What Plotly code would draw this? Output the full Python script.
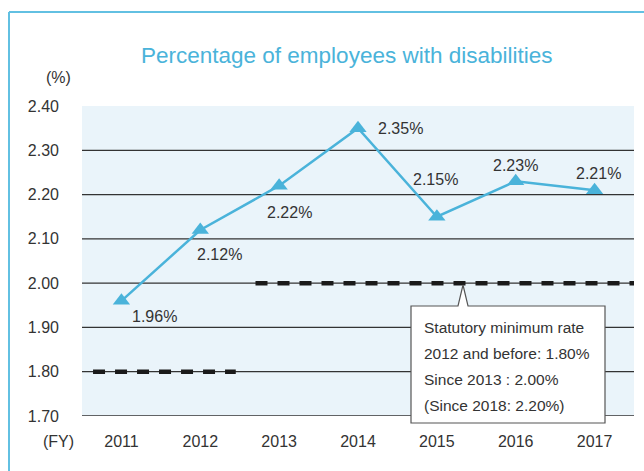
import plotly.graph_objects as go

years = [2011, 2012, 2013, 2014, 2015, 2016, 2017]
rates = [1.96, 2.12, 2.22, 2.35, 2.15, 2.23, 2.21]
labels = ["1.96%", "2.12%", "2.22%", "2.35%", "2.15%", "2.23%", "2.21%"]
y_ticks = [1.70, 1.80, 1.90, 2.00, 2.10, 2.20, 2.30, 2.40]
y_tick_text = ["1.70", "1.80", "1.90", "2.00", "2.10", "2.20", "2.30", "2.40"]
statutory_rates = [1.80, 2.00]
statutory_spans = [(2010.64, 2012.45), (2012.70, 2017.5)]
note_lines = ["Statutory minimum rate", "2012 and before: 1.80%",
              "Since 2013 : 2.00%", "(Since 2018: 2.20%)"]

FONT = "Liberation Sans, Arial, sans-serif"
BLUE = "#4ab3da"
TXT = "#333333"

# label offsets (pixels) relative to each point
label_shift = [(33, -16), (19, -24), (10, -27), (42, 0), (-1, 37), (0, 16), (4, 17)]

fig = go.Figure()
fig.add_trace(go.Scatter(
    x=years, y=rates, mode="lines+markers",
    line=dict(color=BLUE, width=2.5),
    marker=dict(symbol="triangle-up", size=15, color=BLUE),
    hoverinfo="skip", showlegend=False, cliponaxis=False,
))

shapes = []
for r, (x0, x1) in zip(statutory_rates, statutory_spans):
    shapes.append(dict(type="line", xref="x", yref="y", x0=x0, x1=x1, y0=r, y1=r,
                       line=dict(color="#1a1a1a", width=4.5, dash="12px,10px"), layer="above"))

def px(xp):
    return (xp - 82) / 552
def py(yp):
    return (416 - yp) / 310
path = "M {} {} L {} {} L {} {} L {} {} L {} {} L {} {} L {} {} Z".format(
    px(411), py(423), px(411), py(306), px(458), py(306), px(463), py(285),
    px(468), py(306), px(605), py(306), px(605), py(423))
shapes.append(dict(type="path", xref="paper", yref="paper", path=path,
                   fillcolor="white", line=dict(color="#555555", width=1.2), layer="above"))
shapes.append(dict(type="line", xref="paper", yref="paper", x0=px(9), x1=px(9), y0=py(480), y1=py(12),
                   line=dict(color="#62c0e2", width=2)))
shapes.append(dict(type="line", xref="paper", yref="paper", x0=px(9), x1=px(650), y0=py(12), y1=py(12),
                   line=dict(color="#62c0e2", width=2)))

annotations = []
for x, y, t, (dx, dy) in zip(years, rates, labels, label_shift):
    annotations.append(dict(x=x, y=y, xref="x", yref="y", text=t, showarrow=False,
                            xanchor="center", yanchor="middle",
                            xshift=dx, yshift=dy, font=dict(family=FONT, size=16, color=TXT)))
for i, line in enumerate(note_lines):
    annotations.append(dict(x=px(422), y=py(327 + 26 * i), xref="paper", yref="paper", text=line,
                            showarrow=False, xanchor="left", yanchor="middle",
                            font=dict(family=FONT, size=15.5, color=TXT)))
annotations.append(dict(x=px(346), y=py(56), xref="paper", yref="paper",
                        xanchor="center", yanchor="middle",
                        text="Percentage of employees with disabilities", showarrow=False,
                        font=dict(family=FONT, size=22.5, color=BLUE)))
annotations.append(dict(x=px(58), y=py(77), xref="paper", yref="paper", text="(%)", showarrow=False,
                        xanchor="center", yanchor="middle",
                        font=dict(family=FONT, size=16, color=TXT)))
annotations.append(dict(x=px(58), y=py(441), xref="paper", yref="paper", text="(FY)", showarrow=False,
                        xanchor="center", yanchor="middle",
                        font=dict(family=FONT, size=16, color=TXT)))

fig.update_layout(
    width=644, height=471,
    margin=dict(l=82, r=10, t=106, b=55),
    paper_bgcolor="white", plot_bgcolor="#eaf4fa",
    shapes=shapes, annotations=annotations,
    xaxis=dict(range=[2010.5, 2017.5], tickvals=years, ticktext=[str(y) for y in years],
               showgrid=False, zeroline=False, showline=False, ticks="",
               ticklabelstandoff=14, tickfont=dict(family=FONT, size=16, color=TXT), fixedrange=True),
    yaxis=dict(range=[1.70, 2.40], tickvals=y_ticks, ticktext=y_tick_text,
               showgrid=False, zeroline=False, showline=False, ticks="",
               ticklabelstandoff=22, tickfont=dict(family=FONT, size=16, color=TXT), fixedrange=True),
)
for v in y_ticks[:-1]:
    fig.add_shape(type="line", xref="paper", yref="y", x0=0, x1=1, y0=v, y1=v,
                  line=dict(color="#333333", width=1.3), layer="below")

fig.write_html("out.html")
